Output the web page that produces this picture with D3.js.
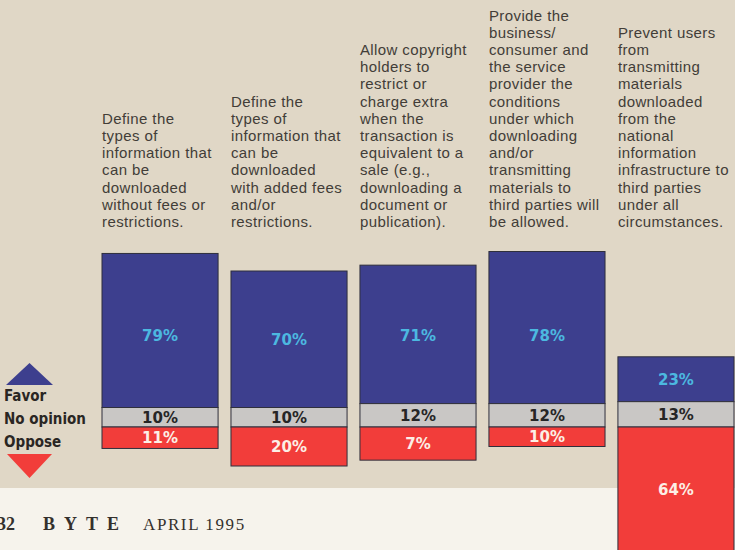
<!DOCTYPE html>
<html>
<head>
<meta charset="utf-8">
<script src="https://cdn.jsdelivr.net/npm/d3@7"></script>
<style>
  html, body { margin: 0; padding: 0; background: #e0d7c6; }
  svg { display: block; }
</style>
</head>
<body>
<div id="chart"></div>
<script>
// survey: should the national information infrastructure ... (Favor / No opinion / Oppose, %)
const questions = [
  ["Define the", "types of", "information that", "can be", "downloaded", "without fees or", "restrictions."],
  ["Define the", "types of", "information that", "can be", "downloaded", "with added fees", "and/or", "restrictions."],
  ["Allow copyright", "holders to", "restrict or", "charge extra", "when the", "transaction is", "equivalent to a", "sale (e.g.,", "downloading a", "document or", "publication)."],
  ["Provide the", "business/", "consumer and", "the service", "provider the", "conditions", "under which", "downloading", "and/or", "transmitting", "materials to", "third parties will", "be allowed."],
  ["Prevent users", "from", "transmitting", "materials", "downloaded", "from the", "national", "information", "infrastructure to", "third parties", "under all", "circumstances."]
];
const favor     = [79, 70, 71, 78, 23];
const noOpinion = [10, 10, 12, 12, 13];
// bar 3 is drawn at ~17% in the original although its label reads 7%
const oppose    = [11, 20, 17, 10, 64];
const opposeLabels = ["11%", "20%", "7%", "10%", "64%"];
const legendLabels = ["Favor", "No opinion", "Oppose"];
const footerText = ["32", "BYTE", "APRIL 1995"];

const W = 735, H = 550;
const colors = { favor: "#3d3f8e", none: "#c9c7c5", oppose: "#f23d3a", favorText: "#4cb8e0", noneText: "#262626", opposeText: "#fcefe6" };

const rows = questions.map((q, i) => ({ i, lines: q, favor: favor[i], none: noOpinion[i], oppose: oppose[i] }));

const svg = d3.select("#chart").append("svg").attr("width", W).attr("height", H);

// paper + white footer strip
svg.append("rect").attr("width", W).attr("height", H).attr("fill", "#e0d7c6");
svg.append("rect").attr("x", 0).attr("y", 488).attr("width", W).attr("height", H - 488).attr("fill", "#f6f3ec");

// scales: value 0 sits at top of the oppose segment, positive goes up
const x = d3.scaleBand().domain(rows.map(d => d.i)).range([102, 734]).paddingInner(0.1).paddingOuter(0);
const y = d3.scaleLinear().domain([-100, 100]).range([427 + 195, 427 - 195]);

const bars = svg.selectAll("g.bar").data(rows).enter().append("g").attr("class", "bar");

const segs = d => [
  { key: "favor",  lo: d.none,    hi: d.none + d.favor, label: d.favor + "%" },
  { key: "none",   lo: 0,         hi: d.none,           label: d.none + "%" },
  { key: "oppose", lo: -d.oppose, hi: 0,                label: opposeLabels[d.i] }
];

bars.selectAll("rect").data(d => segs(d).map(s => ({ ...s, i: d.i }))).enter().append("rect")
  .attr("x", s => x(s.i))
  .attr("y", s => y(s.hi))
  .attr("width", x.bandwidth())
  .attr("height", s => y(s.lo) - y(s.hi))
  .attr("fill", s => colors[s.key])
  .attr("stroke", "#2f2f3c").attr("stroke-width", 1);

// percent labels
bars.selectAll("text.pct").data(d => segs(d).map(s => ({ ...s, i: d.i }))).enter().append("text")
  .attr("class", "pct")
  .attr("x", s => x(s.i) + x.bandwidth() / 2)
  .attr("y", s => {
    const c = (y(s.lo) + y(s.hi)) / 2;
    return s.key === "favor" ? Math.max(c, y(47)) : c;
  })
  .attr("dy", "0.36em")
  .attr("text-anchor", "middle")
  .attr("font-family", "DejaVu Sans, sans-serif").attr("font-weight", "bold").attr("font-size", "15px")
  .attr("fill", s => colors[s.key + "Text"])
  .text(s => s.label);

// question text above each bar, bottom-aligned
const lineH = 17.2, lastBase = 227;
bars.append("text")
  .attr("font-family", "Liberation Sans, Arial, sans-serif").attr("font-size", "15px")
  .attr("letter-spacing", "0.4px").attr("fill", "#423d38")
  .selectAll("tspan").data(d => d.lines.map((t, k) => ({ t, k, n: d.lines.length, i: d.i }))).enter().append("tspan")
  .attr("x", l => x(l.i))
  .attr("y", l => lastBase - (l.n - 1 - l.k) * lineH)
  .text(l => l.t);

// legend
const leg = svg.append("g");
leg.append("path").attr("d", d3.line()([[6, 385], [29.5, 363], [53, 385]]) + "Z").attr("fill", colors.favor);
leg.append("path").attr("d", d3.line()([[7, 454], [29.5, 478], [52, 454]]) + "Z").attr("fill", colors.oppose);
leg.selectAll("text").data(legendLabels).enter().append("text")
  .attr("x", 4).attr("y", (d, i) => 401 + i * 23)
  .attr("font-family", "DejaVu Sans Condensed, DejaVu Sans, sans-serif").attr("font-stretch", "condensed")
  .attr("font-weight", "bold").attr("font-size", "15px").attr("fill", "#2a2623")
  .text(d => d);

// page footer (page number is cut by the left edge in the scan)
const foot = svg.append("g").attr("font-family", "Liberation Serif, Times New Roman, serif").attr("fill", "#34302c");
foot.append("text").attr("x", -3).attr("y", 530).attr("font-size", "18px").attr("font-weight", "bold").text(footerText[0]);
foot.append("text").attr("x", 43).attr("y", 530).attr("font-size", "18px").attr("font-weight", "bold").attr("letter-spacing", "9px").text(footerText[1]);
foot.append("text").attr("x", 143).attr("y", 530).attr("font-size", "17px").attr("letter-spacing", "1.6px").text(footerText[2]);
</script>
</body>
</html>
